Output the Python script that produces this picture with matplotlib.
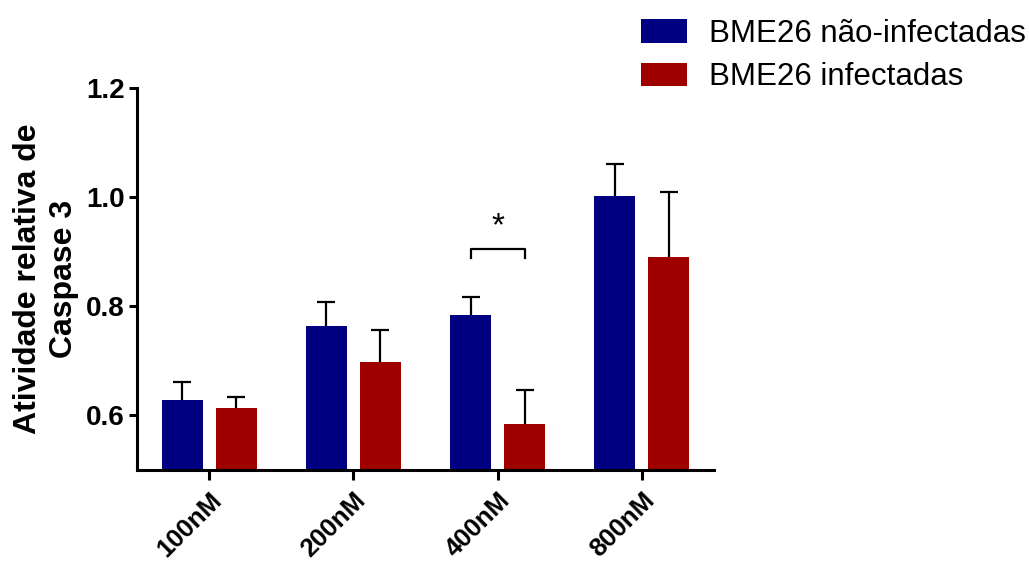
import matplotlib
matplotlib.use("Agg")
import matplotlib.pyplot as plt
import matplotlib.transforms as mtransforms
import numpy as np
from matplotlib.patches import Patch

plt.rcParams["font.family"] = ["Liberation Sans", "DejaVu Sans"]

# data
concentrations = ["100nM", "200nM", "400nM", "800nM"]
series_names = ["BME26 não-infectadas", "BME26 infectadas"]
nao_infectadas = [0.629, 0.764, 0.784, 1.002]
nao_infectadas_err = [0.033, 0.044, 0.033, 0.058]
infectadas = [0.613, 0.697, 0.584, 0.890]
infectadas_err = [0.020, 0.060, 0.062, 0.119]
colors = ["#000080", "#9E0000"]

fig = plt.figure(figsize=(10.29, 5.65), dpi=100)
ax = fig.add_axes([137 / 1029, 1 - 470 / 565, (714 - 137) / 1029, (470 - 88) / 565])

x = np.arange(len(concentrations))
width = 0.284
offset = 0.187

for vals, errs, col, sign in [
    (nao_infectadas, nao_infectadas_err, colors[0], -1),
    (infectadas, infectadas_err, colors[1], 1),
]:
    ax.bar(x + sign * offset, vals, width, color=col, linewidth=0, zorder=2)
    # upper error only: the lower whisker/cap is tucked inside the bar
    ax.errorbar(x + sign * offset, vals, yerr=[np.full(len(errs), 0.02), errs],
                fmt="none", ecolor="black", elinewidth=1.6, capsize=6.5,
                capthick=1.6, zorder=1)

# significance bracket on 400nM
x1, x2 = 2 - offset, 2 + offset
yb, yt = 0.888, 0.905
ax.plot([x1, x1, x2, x2], [yb, yt, yt, yb], color="black", lw=1.6, clip_on=False)
ax.text(2, 0.918, "*", ha="center", va="bottom", fontsize=24)

ax.set_xlim(-0.5, 3.5)
ax.set_ylim(0.5, 1.2)
ax.set_yticks([0.6, 0.8, 1.0, 1.2])
ax.set_yticklabels(["0.6", "0.8", "1.0", "1.2"], fontsize=20, fontweight="bold")
ax.set_xticks(x)
ax.set_xticklabels(concentrations, fontsize=18.5, fontweight="bold",
                   rotation=45, ha="right", rotation_mode="anchor")
shift = mtransforms.ScaledTranslation(-4 / 100, 0, fig.dpi_scale_trans)
for lbl in ax.get_xticklabels():
    lbl.set_transform(lbl.get_transform() + shift)

for side in ["top", "right"]:
    ax.spines[side].set_visible(False)
for side in ["left", "bottom"]:
    ax.spines[side].set_linewidth(2.2)
ax.tick_params(axis="y", width=2.2, length=6, pad=3)
ax.tick_params(axis="x", width=2.2, length=7, pad=6)

ax.set_ylabel("Atividade relativa de\nCaspase 3", fontsize=23, fontweight="bold",
              linespacing=1.25, labelpad=5)

handles = [Patch(facecolor=c, edgecolor="none") for c in colors]
fig.legend(handles, series_names, loc="upper left",
           bbox_to_anchor=(641 / 1029, 1 - 19 / 565), frameon=False,
           fontsize=22.5, handlelength=1.48, handleheight=0.77,
           handletextpad=0.7, labelspacing=0.42, borderpad=0, borderaxespad=0)

fig.savefig("out.png", dpi=100)
